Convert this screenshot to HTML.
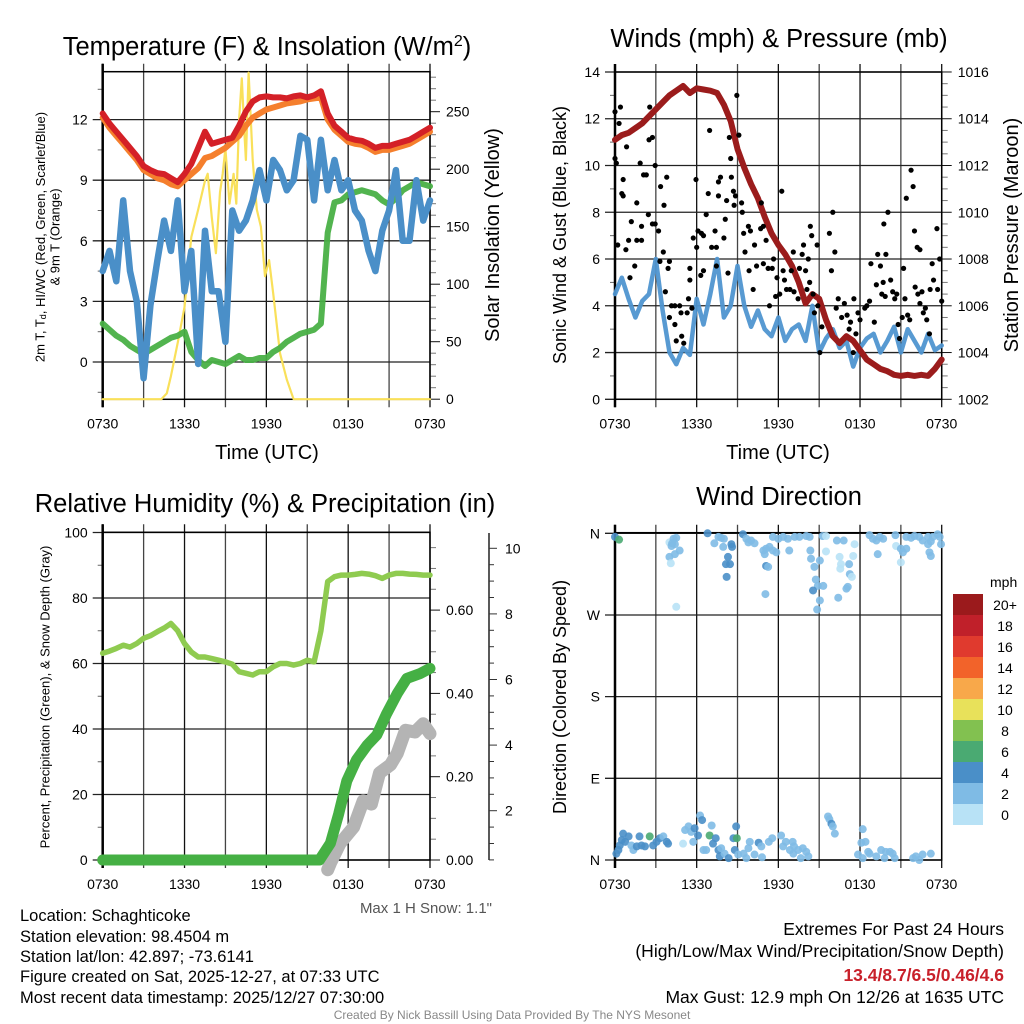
<!DOCTYPE html>
<html><head><meta charset="utf-8"><style>
html,body{margin:0;padding:0;background:#fff;}
svg{display:block;font-family:"Liberation Sans",Arial,sans-serif;}
</style></head><body>
<svg id="fig" width="1024" height="1024" viewBox="0 0 1024 1024" xmlns="http://www.w3.org/2000/svg">
<rect width="1024" height="1024" fill="#fff"/>
<g id="p1"></g>
<g id="p2"></g>
<g id="p3"></g>
<g id="p4"></g>
<text x="267" y="55" font-size="25.5" text-anchor="middle">Temperature (F) &amp; Insolation (W/m<tspan dy="-9" font-size="16">2</tspan><tspan dy="9">)</tspan></text>
<text x="779" y="47" font-size="25.5" text-anchor="middle">Winds (mph) &amp; Pressure (mb)</text>
<text x="265" y="512" font-size="25.5" text-anchor="middle">Relative Humidity (%) &amp; Precipitation (in)</text>
<text x="779" y="505" font-size="25.5" text-anchor="middle">Wind Direction</text>
<text x="267" y="459" font-size="20" text-anchor="middle">Time (UTC)</text>
<text x="778" y="459" font-size="20" text-anchor="middle">Time (UTC)</text>
<text transform="translate(40,237) rotate(-90)" font-size="13" text-anchor="middle" dominant-baseline="central">2m T, T<tspan font-size="9" dy="3">d</tspan><tspan dy="-3">, HI/WC (Red, Green, Scarlet/Blue)</tspan></text>
<text transform="translate(55,237) rotate(-90)" font-size="13" text-anchor="middle" dominant-baseline="central">&amp; 9m T (Orange)</text>
<text transform="translate(493,235) rotate(-90)" font-size="20" text-anchor="middle" dominant-baseline="central">Solar Insolation (Yellow)</text>
<text transform="translate(560,235) rotate(-90)" font-size="18" text-anchor="middle" dominant-baseline="central">Sonic Wind &amp; Gust (Blue, Black)</text>
<text transform="translate(1012,235) rotate(-90)" font-size="20" text-anchor="middle" dominant-baseline="central">Station Pressure (Maroon)</text>
<text transform="translate(45,697) rotate(-90)" font-size="13" text-anchor="middle" dominant-baseline="central">Percent, Precipitation (Green), &amp; Snow Depth (Gray)</text>
<text transform="translate(560,697) rotate(-90)" font-size="18" text-anchor="middle" dominant-baseline="central">Direction (Colored By Speed)</text>
<text x="492" y="913" font-size="15" fill="#555" text-anchor="end">Max 1 H Snow: 1.1"</text>
<g font-size="16.5">
<text x="20" y="921">Location: Schaghticoke</text>
<text x="20" y="942">Station elevation: 98.4504 m</text>
<text x="20" y="962">Station lat/lon: 42.897; -73.6141</text>
<text x="20" y="982">Figure created on Sat, 2025-12-27, at 07:33 UTC</text>
<text x="20" y="1003">Most recent data timestamp: 2025/12/27 07:30:00</text>
</g>
<g font-size="17.5" text-anchor="end">
<text x="1004" y="935">Extremes For Past 24 Hours</text>
<text x="1004" y="957">(High/Low/Max Wind/Precipitation/Snow Depth)</text>
<text x="1004" y="981" fill="#c8202a" font-weight="bold">13.4/8.7/6.5/0.46/4.6</text>
<text x="1004" y="1003">Max Gust: 12.9 mph On 12/26 at 1635 UTC</text>
</g>
<text x="512" y="1019" font-size="12" fill="#888" text-anchor="middle">Created By Nick Bassill Using Data Provided By The NYS Mesonet</text>
</svg>
<script>
// ---------- DATA ----------
const hourLabels = ["0730","1330","1930","0130","0730"];
const halfHours = Array.from({length:49},(_,i)=>i*0.5);
const tempRed = [12.3,11.8,11.4,11.0,10.6,10.2,9.7,9.5,9.35,9.3,9.1,8.9,9.3,9.8,10.6,11.4,10.8,10.9,11.0,11.1,11.7,12.4,12.9,13.1,13.15,13.1,13.1,13.05,13.15,13.2,13.1,13.2,13.4,12.3,11.7,11.4,11.1,11.0,10.95,10.8,10.6,10.7,10.7,10.8,10.9,11.0,11.2,11.4,11.6];
const temp9m = [12.1,11.6,11.2,10.8,10.4,10.0,9.5,9.3,9.1,9.0,8.8,8.7,9.0,9.3,9.6,10.1,10.2,10.4,10.6,10.9,11.2,11.7,12.1,12.3,12.5,12.6,12.7,12.8,12.85,12.9,13.0,13.05,13.1,12.0,11.5,11.2,10.9,10.8,10.75,10.6,10.4,10.5,10.5,10.6,10.7,10.8,11.0,11.2,11.4];
const tempBlue = [4.5,5.5,4.0,8.0,4.5,3.0,-0.8,2.8,5.0,7.0,5.5,8.0,3.5,5.5,-0.1,6.5,3.5,3.5,1.0,7.5,6.5,7.0,8.0,9.5,8.0,10.0,9.5,8.5,9.0,11.2,11.0,8.0,11.0,8.5,10.0,8.5,9.0,7.5,7.0,5.5,4.5,6.5,7.5,9.5,6.0,6.0,9.0,7.0,8.0];
const dewGreen = [1.9,1.6,1.3,1.1,0.8,0.6,0.4,0.6,0.8,1.0,1.2,1.3,1.5,0.5,0.1,-0.2,0.1,0.0,-0.1,0.1,0.3,0.1,0.1,0.2,0.2,0.5,0.7,1.0,1.2,1.4,1.5,1.6,1.9,6.4,7.9,8.0,8.3,8.4,8.5,8.4,8.3,8.0,7.8,8.1,8.5,8.7,8.9,8.8,8.7];
const solarHours = [0,4.3,4.7,5.0,5.5,6.0,6.5,7.0,7.5,7.7,8.0,8.3,8.6,8.8,9.0,9.3,9.6,9.8,10.0,10.2,10.4,10.5,10.7,11.0,11.3,11.6,11.9,12.2,12.5,13.0,13.5,14.0,24];
const solarValues = [0,0,5,20,49,80,141,165,190,196,158,127,180,196,218,170,196,170,243,279,230,208,284,208,165,150,107,121,92,40,17,0,0];
const windSpeed = [4.5,5.2,4.3,3.5,4.2,4.5,6.0,3.8,2.0,1.5,2.2,1.9,4.3,3.2,4.5,6.0,3.5,4.0,5.7,4.0,3.1,3.8,3.0,2.7,3.5,2.5,3.0,3.2,2.5,4.0,2.0,2.6,3.0,2.2,2.5,1.4,2.2,2.6,2.8,2.0,2.5,3.1,2.0,3.0,2.5,2.0,2.8,2.1,2.3];
const pressure = [1013.1,1013.3,1013.4,1013.6,1013.8,1014.1,1014.4,1014.7,1015.0,1015.2,1015.4,1015.1,1015.3,1015.25,1015.2,1015.1,1014.6,1013.9,1012.7,1011.9,1011.2,1010.6,1009.8,1009.1,1008.6,1008.2,1007.7,1007.0,1006.1,1006.5,1006.3,1005.4,1004.7,1004.4,1004.7,1004.5,1004.1,1003.7,1003.5,1003.3,1003.2,1003.05,1003.0,1003.05,1003.0,1003.05,1003.0,1003.3,1003.7];
const gustHours = [0,0.4,0.3,0,0.1,0.85,0.6,0.5,0.6,0.2,0.8,1.0,1.2,1.1,1.45,1.6,1.95,1.85,2.1,2.3,2.55,2.5,2.75,2.95,1.95,1.6,2.45,2.75,2.95,3.2,3.35,3.6,3.8,3.3,3.55,3.9,4.0,3.7,4.0,4.15,4.4,4.4,4.5,4.75,4.9,5.05,4.85,5.3,5.4,5.5,5.5,5.65,5.75,5.95,6.0,6.1,6.35,6.5,6.3,6.5,6.7,6.85,6.95,7.1,7.35,7.45,7.45,7.6,7.6,7.75,8.0,8.1,8.2,8.3,8.4,8.5,8.55,8.7,8.75,8.85,8.95,9.1,9.3,9.35,9.45,9.55,9.8,9.85,9.95,10.15,10.25,10.4,10.7,10.75,10.9,10.9,11.1,11.25,11.35,11.55,11.65,11.8,11.9,12.1,12.25,12.35,12.45,12.6,12.85,12.95,13.1,13.15,13.45,13.55,13.75,13.85,14.0,14.1,14.2,14.3,14.35,14.45,14.55,14.65,14.85,14.9,15.05,15.2,15.75,15.9,16.0,16.15,16.25,16.4,16.65,16.85,17.05,17.2,17.3,17.5,17.55,17.7,17.85,18.0,18.35,18.5,18.7,18.8,19.05,19.2,19.3,19.5,19.6,19.7,19.75,19.85,19.9,20.05,20.25,20.4,20.55,20.7,20.8,20.9,21.1,21.2,21.3,21.4,21.5,21.65,21.75,21.9,22.0,22.05,22.2,22.25,22.4,22.4,22.55,22.65,22.8,22.9,23.1,23.15,23.3,23.4,23.65,23.7,23.85,24.0];
const gustValues = [12.3,12.5,11.8,10.3,10.1,10.8,9.4,8.8,8.7,6.6,6.4,6.8,7.6,5.2,5.7,8.4,7.4,10.1,9.6,9.6,12.5,11.1,11.2,10.0,6.8,6.8,7.9,7.5,7.5,7.2,9.1,8.3,9.5,5.9,6.3,5.6,5.9,4.6,3.5,4.0,4.0,3.2,2.5,4.0,2.7,2.4,3.7,3.7,4.3,5.1,5.6,3.9,6.9,9.4,6.5,7.2,7.1,7.0,5.3,5.5,7.9,8.8,11.5,6.5,7.2,6.5,5.7,8.7,9.3,9.5,6.9,7.7,8.5,5.4,11.2,10.3,9.5,8.9,8.3,8.7,13.0,11.3,8.4,8.0,7.1,6.3,7.4,5.5,7.2,4.7,6.6,5.7,7.3,8.4,7.4,5.8,6.8,5.6,4.0,5.6,6.0,4.4,5.2,4.5,8.9,5.5,5.1,4.7,4.7,5.5,6.3,4.6,4.3,5.6,6.2,6.6,5.5,4.7,6.0,5.0,7.4,7.0,4.5,3.7,6.6,4.0,2.0,3.1,7.1,5.5,8.0,6.3,3.9,4.3,3.5,4.1,3.6,3.0,3.3,2.0,4.3,2.8,3.7,3.4,3.9,4.0,4.2,5.8,3.3,4.9,6.2,5.7,4.5,5.0,7.5,4.4,6.2,8.0,5.1,4.6,4.3,4.5,3.2,2.6,3.5,5.6,4.3,8.6,3.6,3.4,9.8,9.1,7.2,4.8,6.5,4.5,6.4,4.1,4.6,3.7,3.9,3.4,2.8,4.7,5.8,5.1,7.3,4.7,6.0,4.2];
const rhValues = [63.1,63.8,64.6,65.6,65.0,66.1,67.7,68.5,69.7,70.8,72.2,70.0,66.1,63.5,62.0,62.0,61.5,61.0,60.5,59.8,57.5,57.0,56.5,57.5,57.5,59.0,60.0,60.0,59.5,60.0,61.0,60.5,70.0,85.0,86.5,87.0,87.0,87.2,87.5,87.3,86.8,86.0,87.0,87.5,87.5,87.3,87.2,87.0,87.0];
const precipHours = [0,15.9,16.7,17.3,17.9,18.6,19.4,20.1,20.8,21.6,22.3,23.3,24];
const precipValues = [0,0,0.04,0.11,0.19,0.24,0.276,0.30,0.35,0.40,0.436,0.448,0.46];
const snowHours = [16.5,16.7,17.4,18.4,19.1,19.7,20.3,21.1,21.6,22.2,22.9,23.5,24];
const snowValues = [0.2,0.4,1.0,1.5,2.3,2.2,3.15,3.4,3.75,4.45,4.4,4.65,4.35];
const dirHours = [0,0.3,4.0,4.3,4.5,4.15,4.4,4.2,4.75,4.0,4.4,4.1,4.5,6.8,7.3,7.6,7.8,8.0,7.95,8.55,8.6,8.3,8.15,8.45,8.2,9.4,9.65,9.8,10.0,10.25,10.9,11.0,11.1,11.35,11.6,11.85,11.6,12.0,12.35,12.7,13.2,13.55,14.05,14.3,11.1,11.25,11.05,12.8,14.35,14.4,14.65,15.05,14.75,14.9,14.55,15.3,15.05,14.85,15.25,15.5,15.5,16.3,16.8,17.6,17.5,16.5,16.6,16.55,17.2,17.25,17.1,17.0,16.4,17.4,18.7,18.95,19.2,19.45,19.7,19.3,20.6,20.65,21.0,21.15,21.4,21.0,21.4,21.75,22.0,22.35,22.6,23.0,23.2,23.35,23.7,23.85,23.95,23.1,23.2,23.0,
 0.1,0.25,0.35,0.5,0.6,0.75,1.0,1.2,1.35,1.6,1.8,1.95,2.2,2.55,2.8,3.05,3.3,3.55,3.8,3.9,5.0,5.15,5.4,5.6,5.75,5.85,6.1,6.25,6.4,6.5,6.7,6.95,7.1,7.2,7.4,7.6,7.7,7.8,8.05,8.35,8.7,8.8,8.9,8.95,9.05,9.45,9.65,9.8,9.9,10.25,10.55,10.75,10.8,11.3,11.55,12.2,12.35,12.55,12.85,13.05,13.15,13.1,13.45,13.65,13.8,14.05,14.2,15.65,15.75,15.9,16.0,16.15,18.2,18.1,18.4,17.85,18.2,18.7,18.6,19.2,19.55,19.8,19.9,20.2,20.4,20.55,21.9,22.1,22.35,22.6,23.2];
const dirDegrees = [356,353,350,354,355,346,348,349,341,334,337,327,279,360,349,356,355,354,345,348,345,334,326,326,312,359,354,350,352,349,341,337,343,345,341,339,356,354,356,354,356,356,357,356,324,323,293,341,341,332,323,330,309,302,297,302,286,276,357,357,340,352,352,348,335,334,326,321,326,315,301,299,289,312,358,354,352,356,354,337,358,346,343,339,343,328,356,355,357,356,352,356,351,356,359,356,348,339,335,348,
 7,11,16,22,29,20,26,16,11,15,26,16,15,26,16,20,24,26,20,18,18,33,37,31,20,35,27,49,44,11,11,27,38,18,24,11,4,13,7,2,24,11,37,24,6,7,2,13,20,6,19,15,3,20,24,27,15,20,11,20,15,7,11,2,13,9,4,48,45,40,37,29,34,19,20,6,2,7,9,4,11,2,9,9,7,2,2,4,0,6,7];
const dirSpeeds = [5,7,1,3,3,3,3,3,3,3,3,1,1,5,3,3,3,3,3,5,5,5,5,5,5,5,3,3,3,3,3,3,3,3,3,3,3,3,3,3,3,3,3,3,5,3,3,3,3,3,3,3,3,3,5,3,3,3,3,1,1,3,3,1,1,1,1,1,3,3,3,3,3,1,3,3,3,3,3,3,3,1,3,3,3,1,3,3,3,3,3,3,3,3,3,3,3,3,3,3,
 5,5,5,5,5,5,5,3,3,5,5,5,5,7,5,5,5,3,5,5,1,3,3,3,3,5,5,3,5,3,3,7,3,5,5,5,5,3,3,5,5,5,5,7,3,3,3,3,3,3,5,3,3,3,3,3,3,3,3,3,3,3,3,3,3,3,3,3,3,5,3,3,3,3,3,3,3,3,3,3,3,3,3,3,3,3,3,3,3,3,3];
const speedLabels = ["20+","18","16","14","12","10","8","6","4","2","0"];
const speedColors = ["#9b1a1c","#c0202a","#e03a2e","#f2632a","#f8a84a","#e8e15a","#82c150","#4aaa72","#4a8fc8","#7fbbe5","#b8e2f6"];

// ---------- HELPERS ----------
const NS="http://www.w3.org/2000/svg";
function mk(parent, tag, attrs){const e=document.createElementNS(NS,tag);for(const k in attrs)e.setAttribute(k,attrs[k]);parent.appendChild(e);return e;}
function pathFrom(xs,ys,fx,fy){let d="";for(let i=0;i<xs.length;i++){d+=(i?"L":"M")+fx(xs[i]).toFixed(1)+","+fy(ys[i]).toFixed(1);}return d;}
function speedColor(s){const idx=10-Math.min(10,Math.floor(s/2));return speedColors[idx];}

function frame(g, P, leftTicks, rightTicks){
  for(let h=0;h<=24;h+=3){
    const x=P.x(h);
    const gl=mk(g,"line",{x1:x,x2:x,y1:P.y0-8,y2:P.y1+8,stroke:(h%6===0?"#111":"#444"),"stroke-width":1.3});
    
    
  }
  for(let i=0;i<hourLabels.length;i++){
    const t=mk(g,"text",{x:P.x(i*6),y:P.y1+29,"font-size":14,"text-anchor":"middle"});
    t.textContent=hourLabels[i];
    
    
  }
  leftTicks.forEach(tk=>{
    const y=tk.y;
    if(tk.major){
      const gl=mk(g,"line",{x1:P.x0-10,x2:P.x1,y1:y,y2:y,stroke:"#222","stroke-width":1.3});
      
      
      if(tk.label!==undefined){
        const t=mk(g,"text",{x:P.x0-15,y:y+5,"font-size":14,"text-anchor":"end"});
        t.textContent=tk.label;
        
        
      }
    } else {
      const m=mk(g,"line",{x1:P.x0-5,x2:P.x0,y1:y,y2:y,stroke:"#666","stroke-width":1});
      
      
    }
  });
  rightTicks.forEach(tk=>{
    const y=tk.y;
    const ln=mk(g,"line",{x1:P.x1,x2:P.x1+(tk.major?10:6),y1:y,y2:y,stroke:(tk.major?"#111":"#777"),"stroke-width":1});
    
    
    if(tk.label!==undefined){
      const t=mk(g,"text",{x:P.x1+16,y:y+5,"font-size":14});
      t.textContent=tk.label;
      
      
    }
  });
  const bx=mk(g,"rect",{x:P.x0,y:P.y0,width:P.x1-P.x0,height:P.y1-P.y0,fill:"none",stroke:"#000","stroke-width":1.5});
  
  
  const lx=mk(g,"line",{x1:P.x0,x2:P.x0,y1:P.y0-8,y2:P.y1+8,stroke:"#000","stroke-width":2.5});
  
  
}
function line(g,xs,ys,fx,fy,color,w,name,op){
  const p=mk(g,"path",{d:pathFrom(xs,ys,fx,fy),fill:"none",stroke:color,"stroke-width":w,"stroke-linejoin":"round","stroke-linecap":"round","stroke-opacity":op||1});
  
  
  return p;
}

// ---------- PANEL 1 ----------
(function(){
  const g=document.getElementById("p1");
  const P={x0:102.7,x1:430,y0:71.7,y1:399.3};
  P.x=h=>P.x0+(P.x1-P.x0)*h/24;
  const yT=v=>362-v*20.2, yS=w=>399.2-w*1.15;
  const lt=[]; for(let v=-1.5;v<=13.6;v+=1.5){const maj=Math.abs(v%3)<0.01;lt.push({y:yT(v),major:maj,label:maj?String(v):undefined});}
  const rt=[]; for(let w=0;w<=280;w+=10){rt.push({y:yS(w),major:w%50===0,label:w%50===0?String(w):undefined});}
  frame(g,P,lt,rt);
  line(g,solarHours,solarValues,P.x,yS,"#f9e05a",2.2,"solar-insolation-line");
  line(g,halfHours,dewGreen,P.x,yT,"#49b046",6,"dewpoint-line",0.95);
  line(g,halfHours,temp9m,P.x,yT,"#f57f2d",6,"temperature-9m-line");
  line(g,halfHours,tempRed,P.x,yT,"#d42027",6,"temperature-2m-line");
  line(g,halfHours,tempBlue,P.x,yT,"#4a8fc8",6.5,"wind-chill-line");
})();

// ---------- PANEL 2 ----------
(function(){
  const g=document.getElementById("p2");
  const P={x0:615,x1:941.7,y0:72,y1:399.3};
  P.x=h=>P.x0+(P.x1-P.x0)*h/24;
  const yW=v=>399.3-v*23.38, yP=p=>399.3-(p-1002)*23.38;
  const lt=[]; for(let v=0;v<=14;v+=1){const maj=v%2===0;lt.push({y:yW(v),major:maj,label:maj?String(v):undefined});}
  const rt=[]; for(let p=1002;p<=1016.01;p+=0.5){const maj=Math.abs(p%2)<0.01;rt.push({y:yP(p),major:maj,label:maj?String(p):undefined});}
  frame(g,P,lt,rt);
  line(g,halfHours,windSpeed,P.x,yW,"#4f95d0",4.5,"wind-speed-line",0.95);
  line(g,halfHours,pressure,P.x,yP,"#9b1c1c",6,"pressure-line");
  for(let i=0;i<gustHours.length;i++){
    const c=mk(g,"circle",{cx:P.x(gustHours[i]),cy:yW(gustValues[i]),r:2.6,fill:"#000"});
    
    
  }
})();

// ---------- PANEL 3 ----------
(function(){
  const g=document.getElementById("p3");
  const P={x0:102.7,x1:430,y0:532.3,y1:860};
  P.x=h=>P.x0+(P.x1-P.x0)*h/24;
  const yR=v=>860-v*3.275, yPr=v=>860-v*416.5, ySn=v=>876.3-v*32.8;
  const lt=[]; for(let v=0;v<=100;v+=10){const maj=v%20===0;lt.push({y:yR(v),major:maj,label:maj?String(v):undefined});}
  const rt=[]; for(let v=0;v<=0.78;v+=0.05){const maj=Math.abs((v*100)%20)<0.5||Math.abs((v*100)%20-20)<0.5;rt.push({y:yPr(v),major:maj,label:maj?v.toFixed(2):undefined});}
  frame(g,P,lt,rt);
  const sa=mk(g,"line",{x1:489,x2:489,y1:533,y2:860,stroke:"#000","stroke-width":1.3});
  
  
  for(let v=0.5;v<=10.5;v+=0.5){
    const y=ySn(v); if(y<533||y>860) continue;
    const maj=Math.abs(v%2)<0.01;
    const tk=mk(g,"line",{x1:489,x2:489+(maj?8:5),y1:y,y2:y,stroke:"#333","stroke-width":1});
    
    
    if(maj){
      const t=mk(g,"text",{x:505,y:y+5,"font-size":14});
      t.textContent=String(v);
      
      
    }
  }
  line(g,halfHours,rhValues,P.x,yR,"#8fcb50",5.5,"relative-humidity-line");
  line(g,snowHours,snowValues,P.x,ySn,"#b4b4b4",13,"snow-depth-line");
  line(g,precipHours,precipValues,P.x,yPr,"#45b044",11,"precipitation-line");
})();

// ---------- PANEL 4 ----------
(function(){
  const g=document.getElementById("p4");
  const P={x0:615,x1:941.7,y0:532.7,y1:860};
  P.x=h=>P.x0+(P.x1-P.x0)*h/24;
  const yD=d=>860-d*0.9075;
  const names=["N","E","S","W","N"];
  const lt=[]; for(let d=0;d<=360;d+=90){lt.push({y:yD(d),major:true,label:names[d/90]});}
  frame(g,P,lt,[]);
  for(let i=0;i<dirHours.length;i++){
    const c=mk(g,"circle",{cx:P.x(dirHours[i]),cy:yD(dirDegrees[i]),r:4,fill:speedColor(dirSpeeds[i]),"fill-opacity":0.9});
    
    
  }
  const lg=mk(g,"g",{});
  
  
  const t0=mk(lg,"text",{x:990,y:587,"font-size":14});
  t0.textContent="mph";
  
  
  for(let i=0;i<speedLabels.length;i++){
    const r=mk(lg,"rect",{x:953,y:594+i*21,width:30,height:21,fill:speedColors[i]});
    
    
    const t=mk(lg,"text",{x:1005,y:610+i*21,"font-size":14,"text-anchor":"middle"});
    t.textContent=speedLabels[i];
    
    
  }
})();
</script>
</body></html>
